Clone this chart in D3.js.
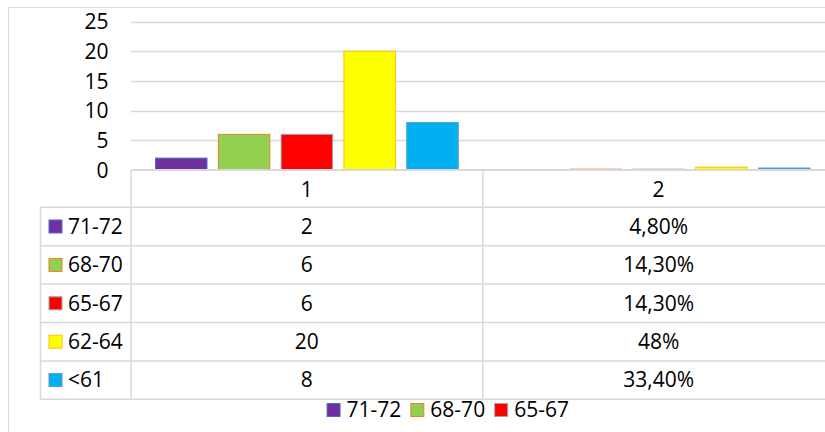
<!DOCTYPE html>
<html>
<head>
<meta charset="utf-8">
<script src="https://cdn.jsdelivr.net/npm/d3@7"></script>
<style>
  html, body { margin: 0; padding: 0; background: #fff; overflow: hidden; }
  text { font-family: "Open Sans", "Liberation Sans", sans-serif; fill: #000; }
</style>
</head>
<body>
<script>
// ---- data ----
const categories = ["1", "2"];
const seriesNames = ["71-72", "68-70", "65-67", "62-64", "<61"];
const values1 = [2, 6, 6, 20, 8];
const values2 = [0.048, 0.143, 0.143, 0.48, 0.334];
const yTicks = [0, 5, 10, 15, 20, 25];
const legendShown = ["71-72", "68-70", "65-67"];

const fills = ["#7030A0", "#92D050", "#FF0000", "#FFFF00", "#00B0F0"];
const outlines = ["#4472C4", "#ED7D31", "#A5A5A5", "#FFC000", "#5B9BD5"];

const W = 825, H = 432;
const grid = "#D9D9D9";
const fontSize = 21;

function fmtPct(v) {
  const p = Math.round(v * 1000) / 10;
  if (Number.isInteger(p)) return p + "%";
  return p.toFixed(2).replace(".", ",") + "%";
}
const labels = [values1.map(v => String(v)), values2.map(fmtPct)];
const data = categories.map((c, ci) => ({
  cat: c,
  vals: (ci === 0 ? values1 : values2).map((v, si) => ({ s: seriesNames[si], si, v }))
}));

const svg = d3.select("body").append("svg").attr("width", W).attr("height", H);
svg.append("rect").attr("width", W).attr("height", H).attr("fill", "#fff");

// outer chart border (chart is cropped on the right and bottom)
svg.append("rect").attr("x", 8.5).attr("y", 7.5).attr("width", 1000).attr("height", 1000)
  .attr("fill", "none").attr("stroke", grid).attr("stroke-width", 1);

const plotL = 131, plotR = 834.5, plotT = 21.5, plotB = 170;
const x0 = d3.scaleBand().domain(categories).range([plotL, plotR]).padding(0);
const x1 = d3.scaleBand().domain(seriesNames).range([0, x0.bandwidth()])
  .paddingInner(0.18).paddingOuter(0.39);
const y = d3.scaleLinear().domain([0, 25]).range([plotB, plotT]);

// gridlines
svg.append("g").selectAll("line").data(yTicks.filter(t => t > 0)).join("line")
  .attr("x1", plotL).attr("x2", plotR)
  .attr("y1", d => Math.round(y(d)) + 0.5).attr("y2", d => Math.round(y(d)) + 0.5)
  .attr("stroke", grid).attr("stroke-width", 1.3);

// y axis labels
const yAxis = d3.axisLeft(y).tickValues(yTicks).tickSize(0).tickPadding(0);
const ya = svg.append("g").attr("transform", `translate(108.5,0)`).call(yAxis);
ya.select(".domain").remove();
ya.selectAll("text").attr("font-size", fontSize).attr("font-family", '"Open Sans", sans-serif')
  .attr("fill", "#000").attr("dy", "0.35em");

// bars
const cg = svg.append("g").selectAll("g").data(data).join("g")
  .attr("transform", d => `translate(${x0(d.cat)},0)`);
cg.selectAll("rect").data(d => d.vals).join("rect")
  .attr("x", d => x1(d.s))
  .attr("width", x1.bandwidth())
  .attr("y", d => y(d.v))
  .attr("height", d => y(0) - y(d.v))
  .attr("fill", d => fills[d.si])
  .attr("stroke", d => outlines[d.si])
  .attr("stroke-width", 1);

// ---- data table ----
const headerH = 37.3, rowH = 38.4;
const tblLeft = 40.5;
const rowTop = i => plotB + headerH + i * rowH;
const tblBottom = rowTop(seriesNames.length);
const tg = svg.append("g");
// axis line / table top
tg.append("line").attr("x1", plotL).attr("x2", plotR).attr("y1", plotB).attr("y2", plotB)
  .attr("stroke", grid).attr("stroke-width", 1.8);
// horizontal row lines
tg.selectAll("line.row").data(d3.range(seriesNames.length + 1)).join("line").attr("class", "row")
  .attr("x1", tblLeft).attr("x2", plotR)
  .attr("y1", d => rowTop(d)).attr("y2", d => rowTop(d))
  .attr("stroke", grid).attr("stroke-width", 1.5);
// vertical lines
const vx = categories.map(c => x0(c)).concat([plotR]);
tg.selectAll("line.col").data(vx).join("line").attr("class", "col")
  .attr("x1", d => d).attr("x2", d => d).attr("y1", plotB).attr("y2", tblBottom)
  .attr("stroke", grid).attr("stroke-width", 1.5);
tg.append("line").attr("x1", tblLeft).attr("x2", tblLeft).attr("y1", rowTop(0)).attr("y2", tblBottom)
  .attr("stroke", grid).attr("stroke-width", 1.5);

// header labels
tg.selectAll("text.hdr").data(categories).join("text").attr("class", "hdr")
  .attr("x", d => x0(d) + x0.bandwidth() / 2).attr("y", plotB + headerH / 2 + 1)
  .attr("dy", "0.35em").attr("text-anchor", "middle").attr("font-size", fontSize).text(d => d);

// row keys + names
const rows = tg.selectAll("g.r").data(seriesNames).join("g").attr("class", "r")
  .attr("transform", (d, i) => `translate(0,${rowTop(i) + rowH / 2})`);
rows.append("rect").attr("x", 49).attr("y", -6.5).attr("width", 13).attr("height", 13)
  .attr("fill", (d, i) => fills[i]).attr("stroke", (d, i) => outlines[i]).attr("stroke-width", 1);
rows.append("text").attr("x", 68).attr("dy", "0.35em").attr("font-size", fontSize).text(d => d);
// cell values
rows.selectAll("text.v").data((d, i) => categories.map((c, ci) => ({ c, t: labels[ci][i] })))
  .join("text").attr("class", "v")
  .attr("x", d => x0(d.c) + x0.bandwidth() / 2).attr("dy", "0.35em")
  .attr("text-anchor", "middle").attr("font-size", fontSize).text(d => d.t);

// ---- bottom legend ----
const lg = svg.append("g").attr("transform", `translate(0,410)`);
const items = lg.selectAll("g").data(legendShown).join("g");
items.append("rect").attr("x", 0).attr("y", -6.5).attr("width", 13).attr("height", 13)
  .attr("fill", d => fills[seriesNames.indexOf(d)]).attr("stroke", d => outlines[seriesNames.indexOf(d)]);
items.append("text").attr("x", 19.5).attr("dy", "0.35em").attr("font-size", fontSize).text(d => d);
let cx = 0;
const pos = [];
items.each(function () {
  const w = 19.5 + this.querySelector("text").getComputedTextLength();
  pos.push(cx);
  cx += w + 9.5;
});
const total = cx - 9.5;
const startX = 448 - total / 2;
items.attr("transform", (d, i) => `translate(${startX + pos[i]},0)`);
</script>
</body>
</html>
